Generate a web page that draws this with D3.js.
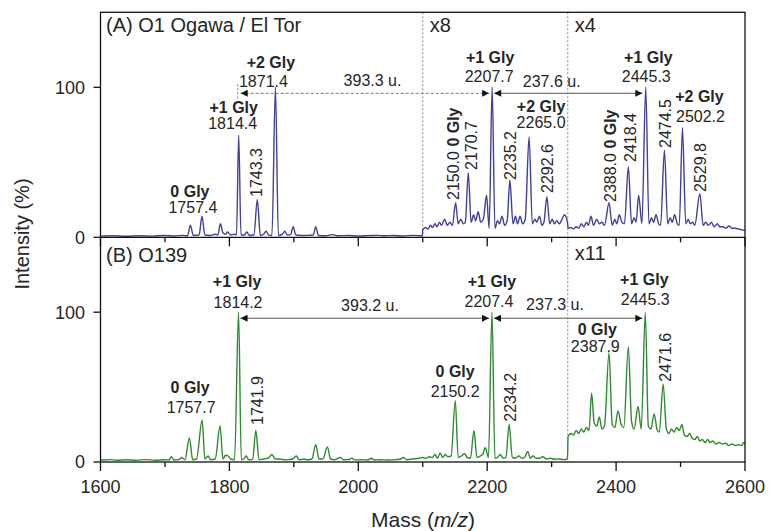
<!DOCTYPE html>
<html><head><meta charset="utf-8">
<script src="https://cdn.jsdelivr.net/npm/d3@7/dist/d3.min.js"></script>
<style>
body{margin:0;background:#fff;}
text{font-family:"Liberation Sans",Arial,sans-serif;fill:#262626;}
</style>
</head><body>
<svg id="c" width="770" height="531"></svg>
<script>
// ---------- data ----------
const xMajorTicks = [1600, 1800, 2000, 2200, 2400, 2600];
const xMinorTicks = [1700, 1900, 2100, 2300, 2500];
const yTicks = [0, 100];

// Panel A spectrum (mass, displayed intensity %)
const traceA = [
 [1600,0.8],[1620,1.0],[1640,0.7],[1660,1.0],[1680,0.8],[1700,1.2],[1715,0.9],[1728,1.3],[1735,1.0],
 [1739.5,8],[1744,1.2],[1753,1.5],[1757.4,14],[1762,1.5],[1770,1.2],[1778,2],[1782,1.5],[1786,9],[1790,3],
 [1794,2],[1797,3.5],[1802,1.5],[1808,2],[1811,1.5],[1814.4,68],[1818,1.5],[1823,1.5],[1827,3.5],[1831,1.2],
 [1838,1.5],[1843.3,25],[1848,1.2],[1853,2],[1857,4],[1861,1.5],[1866,1.2],[1871.4,100],[1876,1.2],[1882,2],
 [1886,4],[1890,1.5],[1895,1.8],[1899,7],[1903,1.5],[1912,1.2],[1922,1.3],[1930,1.5],[1934,7],[1938,1.2],
 [1950,1.0],[1960,1.8],[1968,1.0],[1985,1.2],[2000,0.9],[2015,1.1],[2030,1.3],[2040,1.0],[2055,1.2],
 [2070,0.9],[2085,1.3],[2099.5,1.0],
 [2100,5],[2104,6.5],[2108,5.5],[2112,8],[2115,6.5],[2119,9],[2122,7],[2126,10],[2129,8],[2134,12],[2138,8],
 [2142,10],[2146,8],[2151,23],[2155,9],[2159,12],[2163,9],[2166,10],[2170.7,43],[2175,10],[2179,15],[2182,11],
 [2186,17],[2190,10],[2194,12],[2199,28],[2203,6],[2207.7,100],[2212,6],[2216,11],[2219,9],[2223,14],[2227,8],
 [2231,11],[2235.2,38],[2240,9],[2244,14],[2247,9],[2251,14],[2255,9],[2259,12],[2265.0,67],[2270,9],[2274,12],
 [2277,10],[2281,14],[2285,8],[2288,10],[2292.6,27],[2297,9],[2301,12],[2304,9],[2308,11],[2312,9],[2316,12],
 [2320,15],[2324.5,10],
 [2325.5,6],[2330,6.5],[2334,5.5],[2338,7],[2342,6],[2346,9],[2350,7],[2354,10],[2357,8],[2361,14],[2365,8],
 [2370,12],[2374,9],[2378,10],[2382,8],[2389,23],[2394,8],[2398,12],[2401,9],[2405,15],[2409,10],[2413,9],
 [2419,47],[2424,9],[2428,13],[2431,10],[2435,28],[2440,9],[2446,100],[2451,9],[2455,13],[2458,10],[2462,15],
 [2466,9],[2469,8],[2475,58],[2480,9],[2484,13],[2487,10],[2491,15],[2495,9],[2498,8],[2503,73],[2508,9],
 [2512,12],[2515,9],[2519,10],[2522,8],[2530,29],[2535,8],[2539,10],[2543,8],[2548,10],[2552,7],[2557,9],
 [2561,7],[2566,7],[2570,6],[2575,7.5],[2580,6],[2585,6],[2590,5.5],[2595,5],[2600,4.5]
];

// Panel B spectrum (mass, displayed intensity %)
const traceB = [
 [1600,1.3],[1615,1.6],[1625,1.2],[1640,1.5],[1655,1.2],[1670,1.6],[1685,1.2],[1700,1.5],[1706,1.3],[1710,3.5],
 [1714,1.3],[1722,1.8],[1726,3],[1731,1.5],[1738,16],[1743,1.5],[1749,2],[1757.7,28],[1762,2],[1767,4],
 [1771,1.5],[1778,2],[1785.5,24],[1790,2],[1794,4.5],[1798,4],[1802,2],[1808,1.5],[1814.2,100],[1818.5,1.5],
 [1822,2],[1826,4],[1830,1.5],[1836,1.6],[1841,21],[1846,1.5],[1852,2],[1860,2.5],[1866,5],[1871,2],
 [1878,2],[1885,1.5],[1892,1.6],[1898,2],[1904,4],[1908,1.5],[1915,1.8],[1922,1.5],[1928,2],[1934,11.5],
 [1939,2],[1945,2],[1952,10],[1957,2],[1963,1.5],[1972,3],[1977,1.5],[1985,1.6],[1990,2.6],[1995,1.4],
 [2005,1.5],[2015,1.3],[2020,2.5],[2025,1.3],[2035,1.5],[2045,1.3],[2055,1.4],[2065,1.8],[2070,3],[2075,1.5],
 [2085,2],[2095,2.5],[2100,3],[2105,2.5],[2110,3.5],[2115,3],[2119,5],[2123,2.5],[2127,6],[2131,3],[2135,5],
 [2139,3.5],[2144,4],[2150.5,41],[2155,3],[2160,4],[2165,5.5],[2169,3],[2174,2.5],[2179.5,21],[2184,3],
 [2189,4],[2193,5],[2197,9.5],[2202,3],[2207.4,100],[2212,2.5],[2216,3],[2220,5],[2225,2.5],[2229,3],
 [2234,25],[2239,3],[2244,2.5],[2249,4],[2254,2.5],[2258,3],[2263,7],[2267,2.5],[2271,4],[2276,2.5],
 [2281,2.5],[2286,3.5],[2292,2],[2298,2.5],[2305,1.8],[2312,2],[2318,1.6],[2324.5,2],
 [2325.5,17],[2330,19],[2334,18],[2338,21],[2342,19],[2346,22],[2350,20],[2354,23],[2358,21],[2362,46],
 [2366,26],[2370,24],[2374,30],[2378,22],[2382,24],[2389,73],[2394,25],[2398,23],[2403,34],[2408,25],
 [2412,23],[2419,77],[2424,27],[2428,22],[2434,37],[2439,22],[2445.3,100],[2450,24],[2454,22],[2459,32],
 [2464,21],[2467,20],[2473,52],[2478,22],[2482,19],[2486,22],[2490,20],[2494,23],[2498,21],[2502,25],
 [2506,18],[2510,17],[2514,19],[2518,16],[2522,15],[2526,17],[2530,14],[2534,15],[2538,13],[2542,15],
 [2546,13],[2550,14],[2555,12],[2560,13],[2565,12],[2570,12.5],[2575,11],[2580,12],[2585,11],[2590,11.5],
 [2595,11],[2598,13],[2600,12]
];

const zoomA = [{at:2100, label:"x8"}, {at:2325, label:"x4"}];
const zoomB = [{at:2325, label:"x11"}];

// horizontal peak labels: text, bold, peak mass
const hLabelsA = [
 {t:"0 Gly",b:1,m:1757.4,dx:-12,y:196.7},{t:"1757.4",b:0,m:1757.4,dx:-9,y:213},
 {t:"+1 Gly",b:1,m:1814.4,dx:-5,y:113},{t:"1814.4",b:0,m:1814.4,dx:-6,y:129},
 {t:"+2 Gly",b:1,m:1871.4,dx:-4.5,y:67.7},{t:"1871.4",b:0,m:1871.4,dx:-12,y:87.3},
 {t:"+1 Gly",b:1,m:2207.7,dx:-2,y:63.3},{t:"2207.7",b:0,m:2207.7,dx:-3,y:81.7},
 {t:"+2 Gly",b:1,m:2265.0,dx:12,y:111.7},{t:"2265.0",b:0,m:2265.0,dx:12,y:128.3},
 {t:"+1 Gly",b:1,m:2445.3,dx:3,y:63.3},{t:"2445.3",b:0,m:2445.3,dx:1,y:81.7},
 {t:"+2 Gly",b:1,m:2502.2,dx:17.5,y:102.3},{t:"2502.2",b:0,m:2502.2,dx:18.5,y:121.7}
];
const vLabelsA = [
 {parts:[["1743.3",0]],m:1843.3,dx:-0.6,y:197},
 {parts:[["2150.0 ",0],["0 Gly",1]],m:2151,dx:-2.6,y:200},
 {parts:[["2170.7",0]],m:2170.7,dx:3.4,y:170},
 {parts:[["2235.2",0]],m:2235.2,dx:0.2,y:180},
 {parts:[["2292.6",0]],m:2292.6,dx:0.2,y:193},
 {parts:[["2388.0 ",0],["0 Gly",1]],m:2388.0,dx:2,y:202},
 {parts:[["2418.4",0]],m:2418.4,dx:2.4,y:162},
 {parts:[["2474.5",0]],m:2474.5,dx:1.3,y:148},
 {parts:[["2529.8",0]],m:2529.8,dx:0.6,y:192}
];
const hLabelsB = [
 {t:"+1 Gly",b:1,m:1814.2,dx:-1.5,y:286.7},{t:"1814.2",b:0,m:1814.2,dx:-0.5,y:308.3},
 {t:"0 Gly",b:1,m:1757.7,dx:-12,y:393.3},{t:"1757.7",b:0,m:1757.7,dx:-11,y:412.7},
 {t:"0 Gly",b:1,m:2150.2,dx:0,y:376.7},{t:"2150.2",b:0,m:2150.2,dx:0,y:396.7},
 {t:"+1 Gly",b:1,m:2207.4,dx:0,y:286.7},{t:"2207.4",b:0,m:2207.4,dx:-3,y:306.7},
 {t:"0 Gly",b:1,m:2387.9,dx:-11,y:335},{t:"2387.9",b:0,m:2387.9,dx:-13,y:351.7},
 {t:"+1 Gly",b:1,m:2445.3,dx:-1,y:285},{t:"2445.3",b:0,m:2445.3,dx:0,y:305}
];
const vLabelsB = [
 {parts:[["1741.9",0]],m:1841,dx:1,y:425},
 {parts:[["2234.2",0]],m:2234.2,dx:1,y:421.7},
 {parts:[["2471.6",0]],m:2471.6,dx:3,y:381.7}
];
// mass-difference arrows
const arrowsA = [
 {from:1814.4,to:2207.7,dashed:true,text:"393.3 u.",tx:372.5,ty:86},
 {from:2207.7,to:2445.3,dashed:false,text:"237.6 u.",tx:551.7,ty:87.3}
];
const arrowsB = [
 {from:1814.2,to:2207.4,dashed:false,text:"393.2 u.",tx:370,ty:310.7},
 {from:2207.4,to:2445.3,dashed:false,text:"237.3 u.",tx:555,ty:310}
];

// ---------- drawing ----------
const svg = d3.select("#c");
const L = 100.5, R = 745, T = 12.3, M = 237.3, B = 462;
const x = d3.scaleLinear().domain([1600, 2600]).range([L, R]);
const yA = d3.scaleLinear().domain([0, 150]).range([M, T]);
const yB = d3.scaleLinear().domain([0, 150]).range([B, M]);

const defs = svg.append("defs");
defs.append("marker").attr("id","ah").attr("viewBox","0 0 10 10").attr("refX",10).attr("refY",5)
  .attr("markerWidth",9).attr("markerHeight",7).attr("markerUnits","userSpaceOnUse").attr("orient","auto-start-reverse")
  .append("path").attr("d","M0,0 L10,5 L0,10 Z").attr("fill","#111");

// zoom separators
function separators(list, y0, y1, labelY){
  list.forEach(z=>{
    svg.append("line").attr("x1",x(z.at)).attr("x2",x(z.at)).attr("y1",y0).attr("y2",y1)
      .attr("stroke","#8a8a8a").attr("stroke-width",1).attr("stroke-dasharray","2,2");
    svg.append("text").attr("x",x(z.at)+7).attr("y",labelY).attr("font-size",20).text(z.label);
  });
}
separators(zoomA, T, M, 31.7);
separators(zoomB, M, B, 260);

// spectra
const lineA = d3.line().x(d=>x(d[0])).y(d=>yA(d[1])).curve(d3.curveMonotoneX);
const lineB = d3.line().x(d=>x(d[0])).y(d=>yB(d[1])).curve(d3.curveMonotoneX);
svg.append("path").attr("d",lineA(traceA)).attr("fill","none").attr("stroke","#40409a").attr("stroke-width",1.4).attr("stroke-linejoin","round");
svg.append("path").attr("d",lineB(traceB)).attr("fill","none").attr("stroke","#2f8a32").attr("stroke-width",1.4).attr("stroke-linejoin","round");

// axes / frame
const ax = svg.append("g").attr("stroke","#111").attr("stroke-width",1.3);
ax.append("rect").attr("x",L).attr("y",T).attr("width",R-L).attr("height",B-T).attr("fill","none");
ax.append("line").attr("x1",L).attr("x2",R).attr("y1",M).attr("y2",M);
[M, B].forEach(yy=>{
  xMajorTicks.forEach(t=>ax.append("line").attr("x1",x(t)).attr("x2",x(t)).attr("y1",yy).attr("y2",yy+9));
  xMinorTicks.forEach(t=>ax.append("line").attr("x1",x(t)).attr("x2",x(t)).attr("y1",yy).attr("y2",yy+5));
});
[yA, yB].forEach(ys=>{
  yTicks.forEach(t=>{
    ax.append("line").attr("x1",L-7).attr("x2",L).attr("y1",ys(t)).attr("y2",ys(t));
    svg.append("text").attr("x",85).attr("y",ys(t)).attr("dy","0.36em").attr("text-anchor","end")
      .attr("font-size",18).text(t);
  });
});
xMajorTicks.forEach(t=>svg.append("text").attr("x",x(t)).attr("y",493.3).attr("text-anchor","middle")
  .attr("font-size",18).text(t));

// axis titles
const xt = svg.append("text").attr("x",423).attr("y",526.5).attr("text-anchor","middle").attr("font-size",21);
xt.append("tspan").text("Mass (");
xt.append("tspan").attr("font-style","italic").text("m/z");
xt.append("tspan").text(")");
svg.append("text").attr("transform","translate(29,234) rotate(-90)").attr("text-anchor","middle")
  .attr("font-size",20).text("Intensity (%)");

// panel titles
svg.append("text").attr("x",106).attr("y",31.5).attr("font-size",20).text("(A) O1 Ogawa / El Tor");
svg.append("text").attr("x",106).attr("y",261.7).attr("font-size",20).text("(B) O139");

// labels
function hLabels(list){
  list.forEach(l=>svg.append("text").attr("x",x(l.m)+l.dx).attr("y",l.y).attr("text-anchor","middle")
    .attr("font-size",16).attr("font-weight",l.b?"bold":"normal").text(l.t));
}
function vLabels(list){
  list.forEach(l=>{
    const t = svg.append("text").attr("transform",`translate(${x(l.m)+l.dx},${l.y}) rotate(-90)`)
      .attr("dy","0.36em").attr("font-size",16);
    l.parts.forEach(p=>t.append("tspan").attr("font-weight",p[1]?"bold":"normal").text(p[0]));
  });
}
hLabels(hLabelsA); hLabels(hLabelsB); vLabels(vLabelsA); vLabels(vLabelsB);

// arrows
function arrows(list, ys){
  const yy = ys(96);
  list.forEach(a=>{
    svg.append("line").attr("x1",x(a.from)+2).attr("x2",x(a.to)-3).attr("y1",yy).attr("y2",yy)
      .attr("stroke", a.dashed ? "#777" : "#555").attr("stroke-width",1)
      .attr("stroke-dasharray", a.dashed ? "3,2" : null)
      .attr("marker-start","url(#ah)").attr("marker-end","url(#ah)");
    svg.append("text").attr("x",a.tx).attr("y",a.ty).attr("text-anchor","middle").attr("font-size",16).text(a.text);
  });
}
arrows(arrowsA, yA);
arrows(arrowsB, yB);
// dotted marker at the 1814.4 start of the dashed arrow
svg.append("line").attr("x1",x(arrowsA[0].from)-1).attr("x2",x(arrowsA[0].from)-1)
  .attr("y1",yA(102)).attr("y2",yA(92)).attr("stroke","#777").attr("stroke-width",1).attr("stroke-dasharray","2,2");
</script>
</body></html>
